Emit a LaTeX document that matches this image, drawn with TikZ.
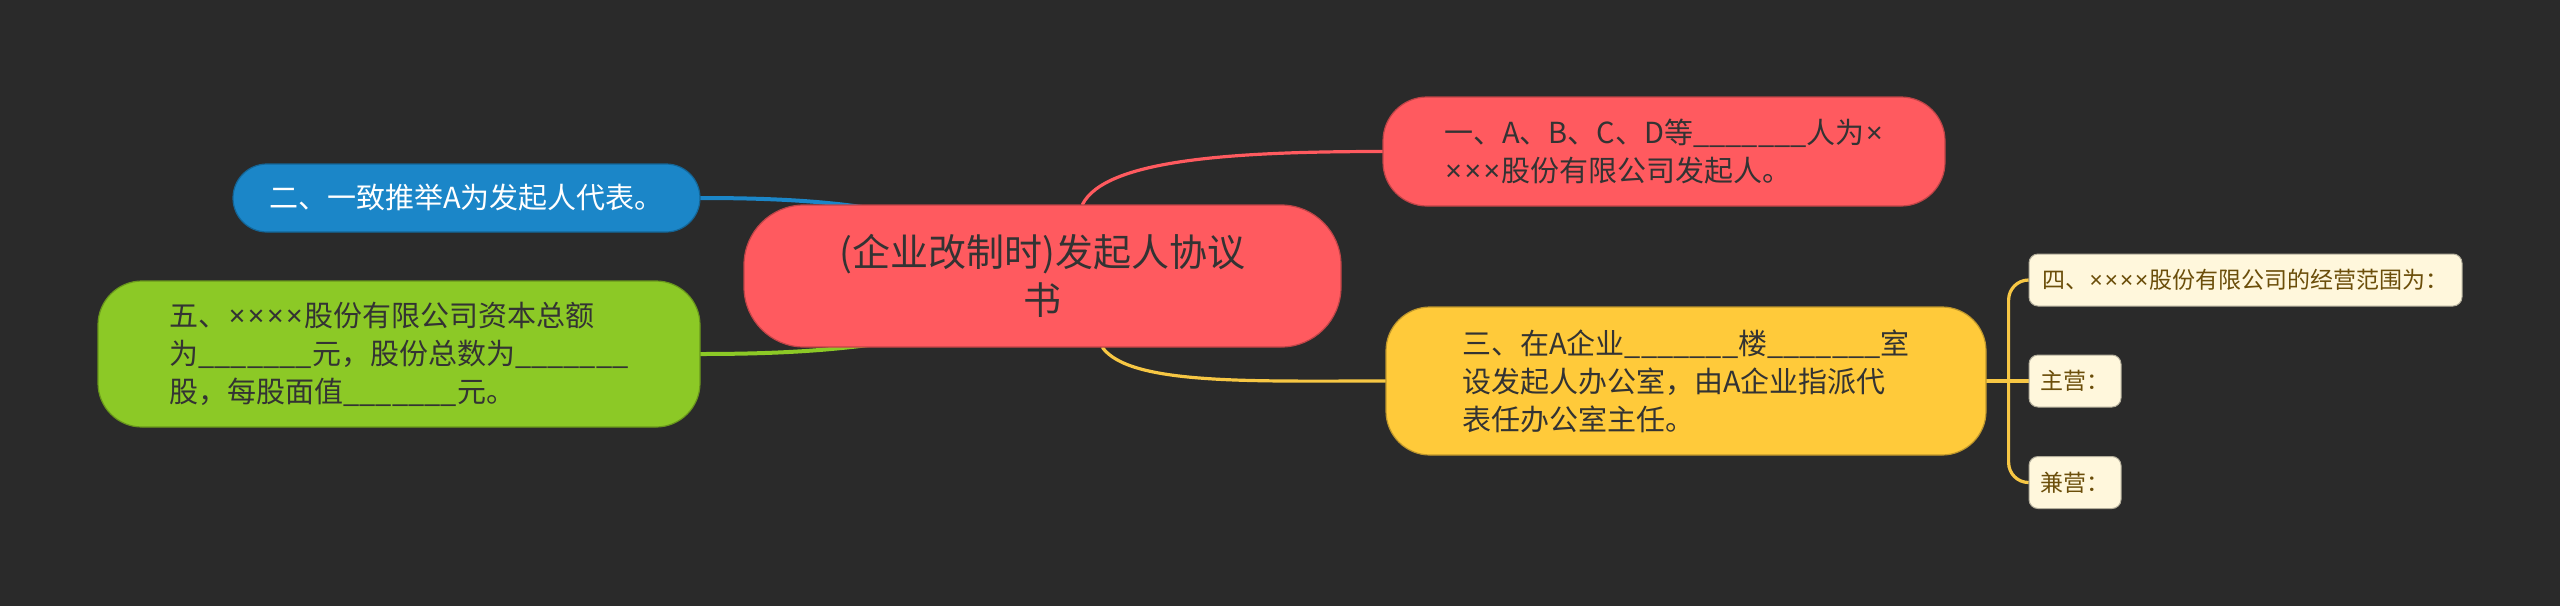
\documentclass[tikz,border=0pt]{standalone}
\usepackage{fontspec}
\setmainfont{Noto Sans CJK SC}
\newfontfamily\latinfam{Noto Sans}
\newcommand\mulx{\makebox[0.66em]{\latinfam ×}}
\usetikzlibrary{calc}
\definecolor{bgc}{HTML}{2A2A2A}
\definecolor{redc}{HTML}{FF5A5F}
\definecolor{bluec}{HTML}{1B86C8}
\definecolor{greenc}{HTML}{8CC926}
\definecolor{yelc}{HTML}{FFCA3A}
\definecolor{yell}{HTML}{F7C744}
\definecolor{creamc}{HTML}{FFF7DC}
\definecolor{txtc}{HTML}{333333}
\definecolor{browntxt}{HTML}{6B4E0A}
\pgfdeclarelayer{bg}
\pgfdeclarelayer{edges}
\pgfsetlayers{bg,edges,main}
\begin{document}
\begin{tikzpicture}[x=0.5pt,y=-0.5pt,
  topic/.style={rounded corners=22pt, inner sep=0pt, text=txtc,
    font=\fontsize{14.5pt}{19pt}\selectfont, line width=0.6pt},
  leaf/.style={rounded corners=4.5pt, inner sep=0pt, fill=creamc, draw=creamc!70!black,
    line width=0.5pt, text=browntxt, font=\fontsize{11.5pt}{14pt}\selectfont,
    minimum height=26pt},
  conn/.style={line width=1.6pt, line cap=round}
]
\begin{pgfonlayer}{bg}
\fill[bgc] (0,0) rectangle (2560,606);
\end{pgfonlayer}
\useasboundingbox (0,0) rectangle (2560,606);

% central topic
\node[topic, fill=redc, draw=redc!75!black, rounded corners=30pt,
  minimum width=298.5pt, minimum height=71pt, align=center,
  font=\fontsize{19pt}{24pt}\selectfont] (center) at (1042.5,276)
  {(企业改制时)发起人协议\\书};

% branch one (red)
\node[topic, fill=redc, draw=redc!75!black, minimum width=281pt, minimum height=54.5pt,
  align=left] (r1) at (1664,151.5)
  {一、A、B、C、D等\_\_\_\_\_\_\_人为\mulx\\\mulx\mulx\mulx 股份有限公司发起人。};

% branch two (blue)
\node[topic, fill=bluec, draw=bluec!75!black, rounded corners=17pt, text=white,
  minimum width=233.5pt, minimum height=34pt, align=center] (b2) at (466.5,198)
  {二、一致推举A为发起人代表。};

% branch three (yellow)
\node[topic, fill=yelc, draw=yelc!75!black, minimum width=300pt, minimum height=74pt,
  align=left] (y3) at (1686,381)
  {三、在A企业\_\_\_\_\_\_\_楼\_\_\_\_\_\_\_室\\设发起人办公室，由A企业指派代\\表任办公室主任。};

% branch five (green)
\node[topic, fill=greenc, draw=greenc!75!black, minimum width=301pt, minimum height=73pt,
  align=left] (g5) at (399,354)
  {五、\mulx\mulx\mulx\mulx 股份有限公司资本总额\\为\_\_\_\_\_\_\_元，股份总数为\_\_\_\_\_\_\_\\股，每股面值\_\_\_\_\_\_\_元。};

% leaves of branch three
\node[leaf, minimum width=216.5pt] (s4) at (2245.5,280) {四、\mulx\mulx\mulx\mulx 股份有限公司的经营范围为：};
\node[leaf, minimum width=46pt] (zhu) at (2075,381) {主营：};
\node[leaf, minimum width=46pt] (jian) at (2075,482.5) {兼营：};

\begin{pgfonlayer}{edges}
  \draw[conn, redc] ($(center.north)+(40,0)$) .. controls (1105,160) and (1230,151.5) .. (r1.west);
  \draw[conn, yell] ($(center.south)+(60,0)$) .. controls (1130,385) and (1250,381) .. (y3.west);
  \draw[conn, bluec, line width=2pt] (b2.east) .. controls (800,198) and (850,204) .. (905,214) -- (center.center);
  \draw[conn, greenc, line width=2pt] (g5.east) .. controls (800,354) and (850,348) .. (905,340) -- (center.center);
  \coordinate (br) at ($(y3.east)+(22,0)$);
  \draw[conn, yell] (y3.east) -- (zhu.west);
  \draw[conn, yell, rounded corners=10pt] (br) |- (s4.west);
  \draw[conn, yell, rounded corners=10pt] (br) |- (jian.west);
\end{pgfonlayer}
\end{tikzpicture}
\end{document}
